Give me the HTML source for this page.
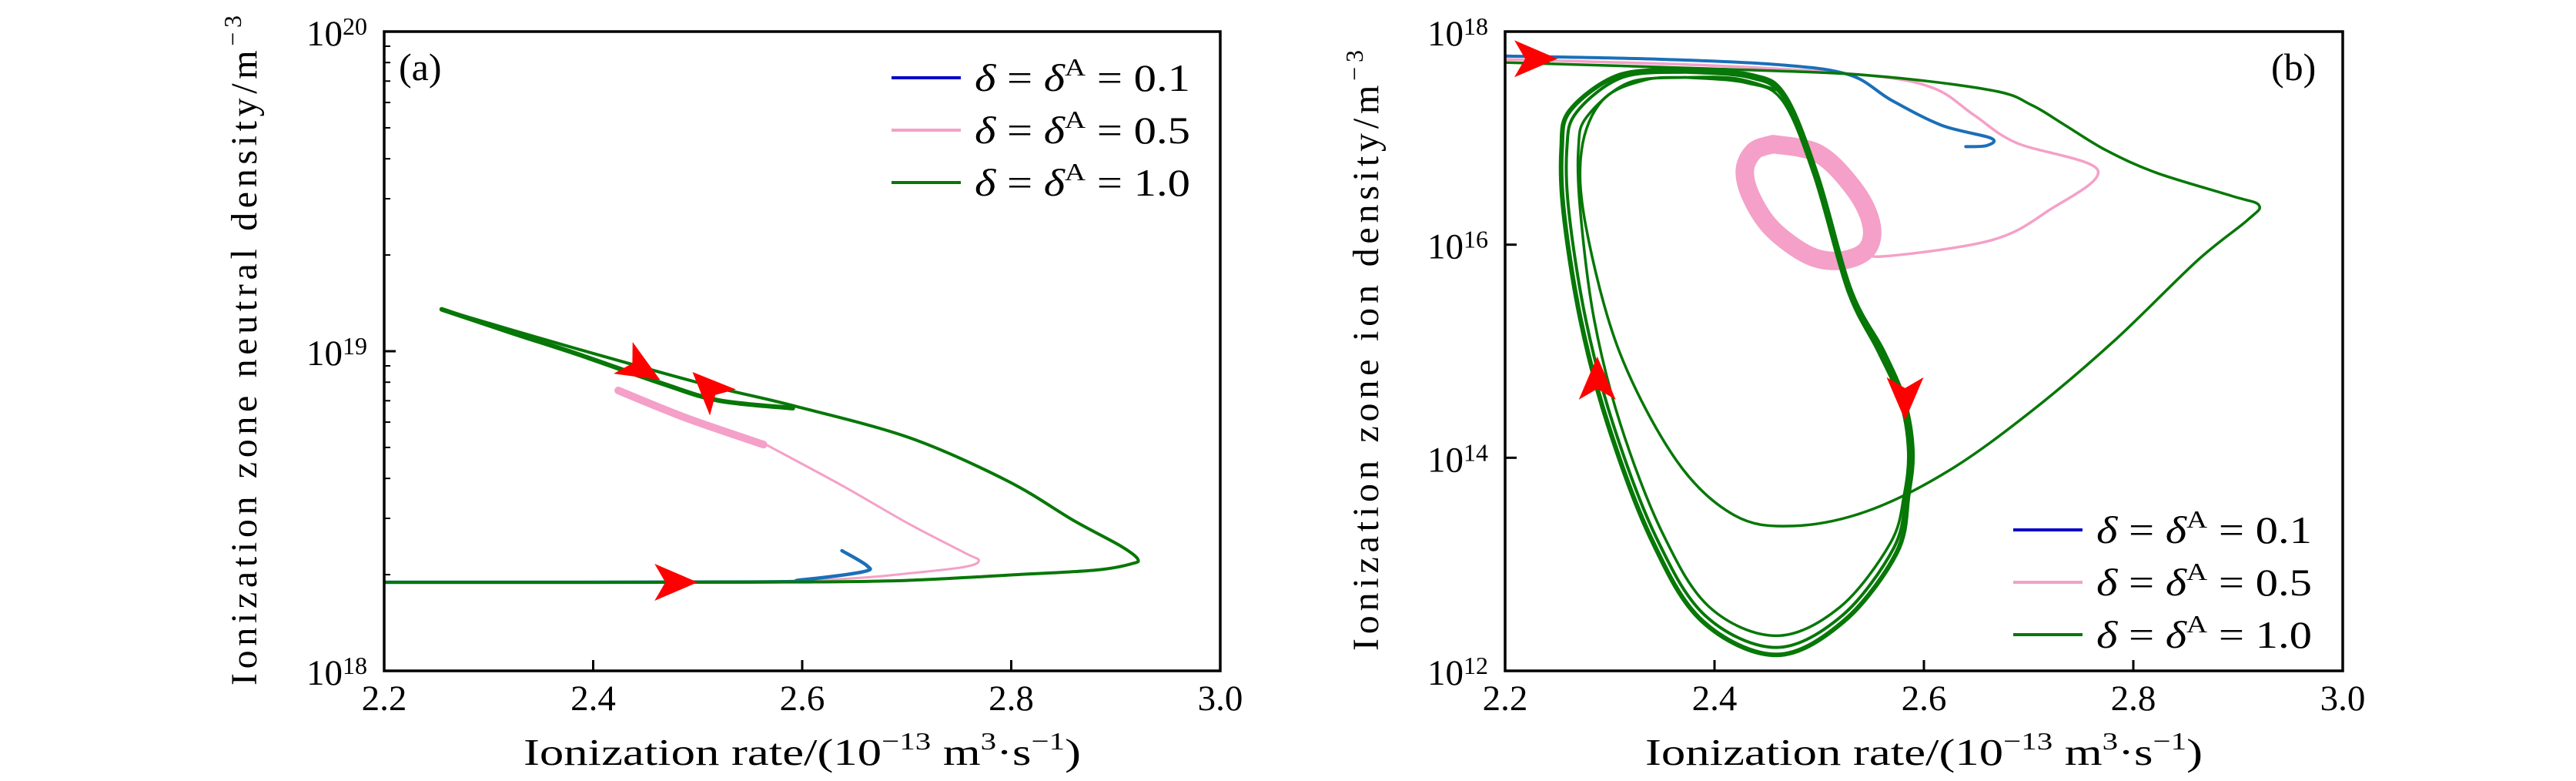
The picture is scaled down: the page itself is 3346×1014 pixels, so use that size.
<!DOCTYPE html>
<html><head><meta charset="utf-8"><style>
html,body{margin:0;padding:0;background:#fff;}
svg{display:block;font-family:"Liberation Serif","DejaVu Serif",serif;}
</style></head><body>
<svg id="fig" width="3346" height="1014" viewBox="0 0 3346 1014" xmlns="http://www.w3.org/2000/svg"></svg>
<script>
// ---- Panel (a) data: [ionization rate, log10 neutral density] ----
const aXTicks=[2.2,2.4,2.6,2.8,3.0];
const aYTicks=[18,19,20];
const aGreen=[[2.2,18.277],[2.45,18.277],[2.6,18.278],[2.7,18.283],[2.8,18.3],[2.88,18.315],[2.915,18.335],[2.921,18.35],[2.905,18.39],[2.86,18.47],[2.796,18.595],[2.702,18.73],[2.591,18.83],[2.52,18.885],[2.449,18.948],[2.35,19.04],[2.255,19.131]];
const aGreenReturn=[[2.255,19.131],[2.32,19.06],[2.386,18.99],[2.465,18.90],[2.52,18.846],[2.591,18.822]];
const aPink=[[2.2,18.277],[2.55,18.278],[2.65,18.29],[2.702,18.305],[2.755,18.325],[2.769,18.345],[2.755,18.37],[2.702,18.46],[2.638,18.58],[2.567,18.705]];
const aPinkThick=[[2.563,18.708],[2.49,18.79],[2.424,18.877]];
const aBlue=[[2.2,18.277],[2.55,18.278],[2.6,18.285],[2.658,18.31],[2.662,18.329],[2.638,18.376]];
const aArrows=[[2.464,18.91,1,-0.6],[2.495,18.935,-1,1.0],[2.5,18.277,1,0]];
// ---- Panel (b) data: [ionization rate, log10 ion density] ----
const bYTicks=[12,14,16,18];
const bBlue=[[2.2,17.77],[2.35,17.74],[2.467,17.685],[2.53,17.59],[2.569,17.356],[2.617,17.12],[2.664,17.0],[2.66,16.93],[2.64,16.92]];
const bPink=[[2.2,17.74],[2.4,17.68],[2.546,17.59],[2.609,17.47],[2.648,17.215],[2.688,16.957],[2.766,16.70],[2.719,16.32],[2.664,16.04],[2.561,15.89],[2.545,15.95]];
const bRing=[[2.456,16.944],[2.50,16.85],[2.535,16.50],[2.55,16.18],[2.545,15.95],[2.52,15.85],[2.49,15.90],[2.455,16.15],[2.435,16.45],[2.429,16.70],[2.438,16.88],[2.456,16.944]];
const bGreenTransient=[[2.2,17.71],[2.4,17.65],[2.546,17.59],[2.664,17.45],[2.703,17.31],[2.735,17.12],[2.774,16.886],[2.822,16.675],[2.893,16.46],[2.92,16.37],[2.909,16.23],[2.861,15.85],[2.782,15.1],[2.703,14.44],[2.624,13.88],[2.546,13.50],[2.475,13.36],[2.419,13.46],[2.364,13.97],[2.309,15.0],[2.277,16.18],[2.273,16.886],[2.293,17.356],[2.333,17.544],[2.372,17.57],[2.42,17.56],[2.46,17.45]];
const bCycleOuter=[[2.372,17.64],[2.435,17.59],[2.467,17.40],[2.498,16.65],[2.53,15.57],[2.561,15.0],[2.581,14.54],[2.589,14.07],[2.585,13.65],[2.574,13.11],[2.524,12.47],[2.459,12.15],[2.388,12.47],[2.34,13.23],[2.298,14.32],[2.272,15.3],[2.256,16.3],[2.254,16.9],[2.262,17.26],[2.309,17.59],[2.372,17.64]];
const bCycleInner=[[2.372,17.57],[2.43,17.52],[2.465,17.35],[2.495,16.65],[2.527,15.57],[2.556,15.0],[2.577,14.54],[2.585,14.07],[2.581,13.65],[2.568,13.2],[2.52,12.6],[2.459,12.33],[2.395,12.6],[2.35,13.3],[2.31,14.32],[2.285,15.3],[2.272,16.3],[2.27,16.9],[2.278,17.2],[2.318,17.52],[2.372,17.57]];
const bCycleMid=[[2.372,17.62],[2.433,17.57],[2.466,17.38],[2.497,16.65],[2.529,15.57],[2.559,15.0],[2.579,14.54],[2.587,14.07],[2.583,13.65],[2.571,13.15],[2.522,12.52],[2.459,12.22],[2.391,12.52],[2.344,13.26],[2.303,14.32],[2.277,15.3],[2.261,16.3],[2.259,16.9],[2.268,17.24],[2.312,17.57],[2.372,17.62]];
const bArrows=[[2.25,17.745,1,0],[2.288,14.95,0,1],[2.582,14.35,0,-1]];
const legendLabels=["0.1","0.5","1.0"];
const legendColors=["#0000c8","#f4a0c8","#077707"];

const NS="http://www.w3.org/2000/svg";
const svg=document.getElementById('fig');
function mk(tag,attrs,parent){const e=document.createElementNS(NS,tag);for(const k in attrs)e.setAttribute(k,attrs[k]);(parent||svg).appendChild(e);return e;}

function panel(x0,x1,yTop,yBot,ymin,ymax){
  return {sx:v=>x0+(v-2.2)/0.8*(x1-x0), sy:v=>yBot-(v-ymin)/(ymax-ymin)*(yBot-yTop), x0,x1,yTop,yBot};
}
function smooth(pts){
  let d='M'+pts[0][0].toFixed(1)+','+pts[0][1].toFixed(1);
  for(let i=0;i<pts.length-1;i++){
    const p0=pts[Math.max(i-1,0)],p1=pts[i],p2=pts[i+1],p3=pts[Math.min(i+2,pts.length-1)];
    const c1=[p1[0]+(p2[0]-p0[0])/6,p1[1]+(p2[1]-p0[1])/6],c2=[p2[0]-(p3[0]-p1[0])/6,p2[1]-(p3[1]-p1[1])/6];
    d+=' C'+c1[0].toFixed(1)+','+c1[1].toFixed(1)+' '+c2[0].toFixed(1)+','+c2[1].toFixed(1)+' '+p2[0].toFixed(1)+','+p2[1].toFixed(1);
  }
  return d;
}
function series(P,data,color,w,name,g){
  const pts=data.map(p=>[P.sx(p[0]),P.sy(p[1])]);
  const e=mk('path',{d:smooth(pts),fill:'none',stroke:color,'stroke-width':w,'stroke-linejoin':'round','stroke-linecap':'round'},g);
  
  
  return e;
}
function arrow(P,a,name,g){
  const cx=P.sx(a[0]),cy=P.sy(a[1]);
  const len=Math.hypot(a[2],a[3]);const ux=a[2]/len,uy=-a[3]/len;const px=-uy,py=ux;
  const L=56,W=24,back=14;
  const tip=[cx,cy],bl=[cx-ux*L+px*W,cy-uy*L+py*W],br=[cx-ux*L-px*W,cy-uy*L-py*W],nk=[cx-ux*(L-back),cy-uy*(L-back)];
  const e=mk('polygon',{points:[tip,bl,nk,br].map(p=>p[0].toFixed(1)+','+p[1].toFixed(1)).join(' '),fill:'#ff0000'},g);
  
  
}
function axes(P,yTicks,minor,g,prefix){
  aXTicks.forEach(t=>{
    const x=P.sx(t);
    const tk=mk('line',{x1:x,x2:x,y1:P.yBot,y2:P.yBot-14,stroke:'#000','stroke-width':3},g);
    
    
    const tl=mk('text',{x:x,y:P.yBot+51,'font-size':47,'text-anchor':'middle'},g);
    tl.textContent=t.toFixed(1);
    
    
  });
  yTicks.forEach(t=>{
    const y=P.sy(t);
    if(t!==yTicks[0]&&t!==yTicks[yTicks.length-1]){
      const tk=mk('line',{x1:P.x0,x2:P.x0+15,y1:y,y2:y,stroke:'#000','stroke-width':3},g);
      
      
    }
    const tl=mk('text',{x:P.x0-22,y:y+18,'font-size':47,'text-anchor':'end'},g);
    tl.innerHTML='10<tspan font-size="32" dy="-14">'+t+'</tspan>';
    
    
    if(minor&&t<yTicks[yTicks.length-1]){
      for(let m=2;m<=9;m++){
        const ym=P.sy(t+Math.log10(m));
        const mt=mk('line',{x1:P.x0,x2:P.x0+8,y1:ym,y2:ym,stroke:'#000','stroke-width':2},g);
        
        
      }
    }
  });
  const fr=mk('rect',{x:P.x0,y:P.yTop,width:P.x1-P.x0,height:P.yBot-P.yTop,fill:'none',stroke:'#000','stroke-width':3.5},g);
  
  
  const xt=mk('text',{x:(P.x0+P.x1)/2,y:993,'font-size':49,'text-anchor':'middle',textLength:724,lengthAdjust:'spacingAndGlyphs'},g);
  xt.innerHTML='Ionization rate/(10<tspan font-size="32" dy="-20">−13</tspan><tspan dy="20"> m</tspan><tspan font-size="32" dy="-20">3</tspan><tspan dy="20">·s</tspan><tspan font-size="32" dy="-20">−1</tspan><tspan dy="20">)</tspan>';
  
  
}
function legend(x,y0,g,prefix){
  legendLabels.forEach((lab,i)=>{
    const y=y0+i*68;
    const ln=mk('line',{x1:x,x2:x+90,y1:y,y2:y,stroke:legendColors[i],'stroke-width':4},g);
    
    
    const t=mk('text',{x:x+108,y:y+17,'font-size':50,textLength:280,lengthAdjust:'spacingAndGlyphs'},g);
    t.innerHTML='<tspan font-style="italic">δ</tspan> = <tspan font-style="italic">δ</tspan><tspan font-size="32" dy="-20">A</tspan><tspan dy="20"> = '+lab+'</tspan>';
    
    
  });
}

// Panel (a)
const gA=mk('g',{});


const PA=panel(499,1585,41,871,18,20);
const clipA=mk('clipPath',{id:'ca'});mk('rect',{x:499,y:41,width:1086,height:830},clipA);
const sA=mk('g',{'clip-path':'url(#ca)'},gA);
series(PA,aPink,'#f4a0c8',3,'series-a-delta-0.5',sA);
series(PA,aPinkThick,'#f4a0c8',10,'series-a-delta-0.5-cycle',sA);
series(PA,aBlue,'#1a6fb8',4.5,'series-a-delta-0.1',sA);
series(PA,aGreen,'#077707',4,'series-a-delta-1.0',sA);
series(PA,aGreenReturn,'#077707',6,'series-a-delta-1.0-return',sA);
aArrows.forEach((a,i)=>arrow(PA,a,'direction-arrow-a-'+i,sA));
axes(PA,aYTicks,true,gA,'panel-a');
legend(1158,101,gA,'panel-a');
const labA=mk('text',{x:518,y:104,'font-size':50},gA);labA.textContent='(a)';


const ytA=mk('text',{transform:'translate(333,455) rotate(-90)','font-size':48,'text-anchor':'middle',textLength:870,lengthAdjust:'spacing'},gA);
ytA.innerHTML='Ionization zone neutral density/m<tspan font-size="32" dy="-20">−3</tspan>';



// Panel (b)
const gB=mk('g',{});


const PB=panel(1955,3043,41,871,12,18);
const clipB=mk('clipPath',{id:'cb'});mk('rect',{x:1955,y:41,width:1088,height:830},clipB);
const sB=mk('g',{'clip-path':'url(#cb)'},gB);
series(PB,bRing,'#f4a0c8',24,'series-b-delta-0.5-ring',sB);
series(PB,bPink,'#f4a0c8',3.5,'series-b-delta-0.5',sB);
series(PB,bBlue,'#1a6fb8',4,'series-b-delta-0.1',sB);
series(PB,bGreenTransient,'#077707',3.5,'series-b-delta-1.0-transient',sB);
series(PB,bCycleInner,'#077707',3.5,'series-b-delta-1.0-cycle-inner',sB);
series(PB,bCycleMid,'#077707',4,'series-b-delta-1.0-cycle-mid',sB);
series(PB,bCycleOuter,'#077707',6,'series-b-delta-1.0-cycle-outer',sB);
bArrows.forEach((a,i)=>arrow(PB,a,'direction-arrow-b-'+i,sB));
axes(PB,bYTicks,false,gB,'panel-b');
legend(2615,688,gB,'panel-b');
const labB=mk('text',{x:2950,y:104,'font-size':50},gB);labB.textContent='(b)';


const ytB=mk('text',{transform:'translate(1790,455) rotate(-90)','font-size':48,'text-anchor':'middle',textLength:780,lengthAdjust:'spacing'},gB);
ytB.innerHTML='Ionization zone ion density/m<tspan font-size="32" dy="-20">−3</tspan>';


</script>
</body></html>
